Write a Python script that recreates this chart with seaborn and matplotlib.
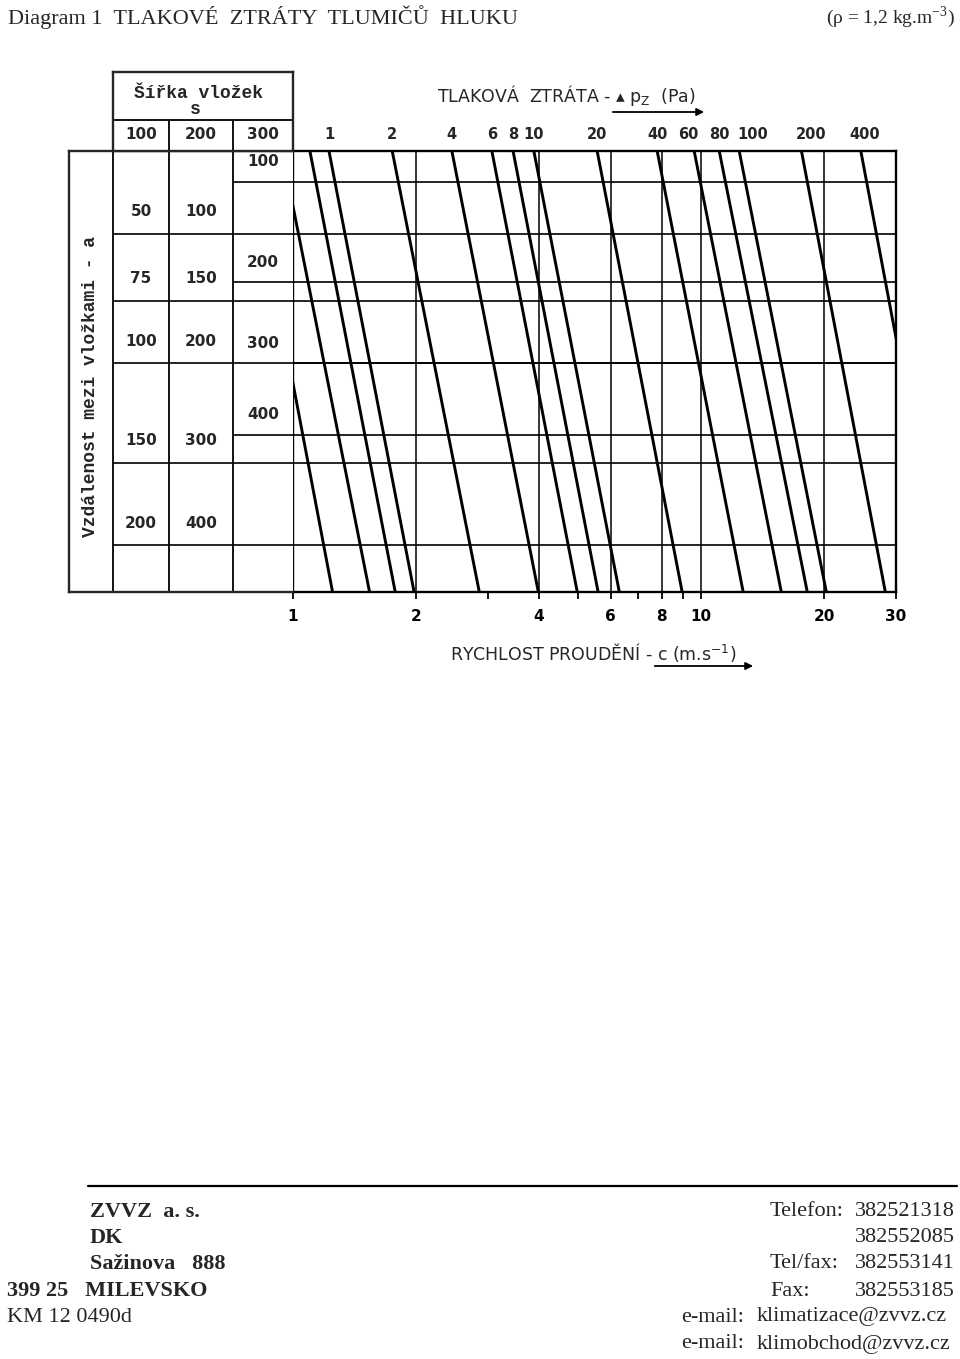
import numpy as np
import pandas as pd
import matplotlib
matplotlib.use("Agg")
import matplotlib.pyplot as plt
from matplotlib.lines import Line2D
from matplotlib.ticker import NullFormatter
import seaborn as sns

# ------------------------------------------------------------------ data
# pressure-loss lines  dp (Pa): velocity c (m/s) read where each line meets
# the top and the bottom edge of the chart field
dp_values = [0.4, 0.6, 0.8, 1, 2, 4, 6, 8, 10, 20, 40, 60, 80, 100, 200, 400]
dp_labels = ["", "", "", "1", "2", "4", "6", "8", "10", "20", "40", "60",
             "80", "100", "200", "400"]
c_at_top = [0.78, 0.94, 1.10, 1.225, 1.75, 2.45, 3.07, 3.46, 3.89, 5.56,
            7.80, 9.61, 11.07, 12.39, 17.6, 24.6]
c_at_bottom = [1.25, 1.54, 1.78, 1.98, 2.86, 3.99, 4.97, 5.59, 6.30, 8.98,
               12.67, 15.71, 18.19, 20.25, 28.25, 39.3]

# vertical scale: loss coefficient zeta at the top and bottom edge
zeta_top = 1.10
zeta_bottom = 0.41

# baffle width s and baffle spacing a (table left of the chart)
s_widths = ["100", "200", "300"]
a_s100 = [50, 75, 100, 150, 200]
a_s200 = [100, 150, 200, 300, 400]
zeta_rows = [0.914, 0.786, 0.684, 0.547, 0.455]     # rows shared by s=100/200
a_s300 = [100, 200, 300, 400]
zeta_s300 = [1.026, 0.820, 0.684, 0.583]

# velocity axis
c_ticks = [1, 2, 4, 6, 8, 10, 20, 30]
c_tick_labels = ["1", "2", "4", "6", "8", "10", "20", "30"]
c_minor = [3, 5, 7, 9]
c_grid = [2, 4, 6, 8, 10, 20]

# ------------------------------------------------------------------ style
sns.set_style("ticks")
plt.rcParams["font.family"] = ["DejaVu Sans"]
plt.rcParams["axes.linewidth"] = 1.6

W, H = 960, 1359
fig = plt.figure(figsize=(W / 100, H / 100), dpi=100)


def rect(x0, y0, x1, y1):
    return [x0 / W, 1 - y1 / H, (x1 - x0) / W, (y1 - y0) / H]


ax = fig.add_axes(rect(293, 151, 896, 592))
ax_t = fig.add_axes(rect(69, 151, 293, 592), sharey=ax)
ax_h = fig.add_axes(rect(113, 72, 293, 151))

ax.set_xscale("log")
ax.set_yscale("log")

# diagonal pressure-loss lines
rows = []
for dp, ct, cb in zip(dp_values, c_at_top, c_at_bottom):
    rows.append({"dp": dp, "c": ct, "zeta": zeta_top})
    rows.append({"dp": dp, "c": cb, "zeta": zeta_bottom})
df = pd.DataFrame(rows)
sns.lineplot(data=df, x="c", y="zeta", units="dp", estimator=None,
             sort=False, color="black", lw=2.1, ax=ax, legend=False)

ax.set_xlim(1, 30)
ax.set_ylim(zeta_bottom, zeta_top)
ax.set_xlabel("")
ax.set_ylabel("")

# grid
for c in c_grid:
    ax.axvline(c, color="black", lw=1.1, zorder=1)
for z in zeta_rows:
    ax.axhline(z, color="black", lw=1.2, zorder=1)
for z in zeta_s300:
    ax.axhline(z, color="black", lw=1.2, zorder=1)

# x axis
ax.set_xticks(c_ticks, labels=c_tick_labels, fontsize=11, fontweight="bold")
ax.set_xticks(c_minor, minor=True)
ax.xaxis.set_minor_formatter(NullFormatter())
ax.tick_params(axis="x", which="both", direction="out", length=5, width=1.3,
               pad=7, colors="black")
ax.tick_params(axis="y", which="both", left=False, labelleft=False)
ax.set_xlabel("RYCHLOST PROUDĚNÍ - c (m.s$^{\\mathregular{-1}}$)",
              fontsize=12.5)
ax.xaxis.set_label_coords(0.497, -0.112)

for sp in ax.spines.values():
    sp.set_visible(True)
    sp.set_linewidth(1.7)
    sp.set_color("black")

# labels of the pressure-loss lines (small nudges where labels crowd)
label_nudge = {"60": -4, "100": 10, "200": 7, "400": 3}
for lab, ct in zip(dp_labels, c_at_top):
    if lab:
        ax.annotate(lab, xy=(ct, zeta_top),
                    xytext=(label_nudge.get(lab, 0), 12),
                    textcoords="offset points", ha="center", va="center",
                    fontsize=10.5, fontweight="bold", annotation_clip=False)

# ------------------------------------------------------------------ table
ax_t.set_xlim(0, 224)
col_edges = [44, 100, 164]
col_mid = [72, 132, 194]
ax_t.vlines(col_edges, zeta_bottom, zeta_top, color="black", lw=1.3)
ax_t.hlines(zeta_rows, 44, 224, color="black", lw=1.2)
ax_t.hlines([z for z in zeta_s300 if z not in zeta_rows], 164, 224,
            color="black", lw=1.2)
ax_t.tick_params(axis="both", which="both", left=False, bottom=False,
                 labelleft=False, labelbottom=False)
for sp in ["left", "top", "bottom"]:
    ax_t.spines[sp].set_linewidth(1.7)
ax_t.spines["right"].set_visible(False)

for a, z in zip(a_s100, zeta_rows):
    ax_t.annotate(str(a), xy=(col_mid[0], z), xytext=(0, 16),
                  textcoords="offset points", ha="center", va="center",
                  fontsize=11, fontweight="bold")
for a, z in zip(a_s200, zeta_rows):
    ax_t.annotate(str(a), xy=(col_mid[1], z), xytext=(0, 16),
                  textcoords="offset points", ha="center", va="center",
                  fontsize=11, fontweight="bold")
for a, z in zip(a_s300, zeta_s300):
    ax_t.annotate(str(a), xy=(col_mid[2], z), xytext=(0, 14.5),
                  textcoords="offset points", ha="center", va="center",
                  fontsize=11, fontweight="bold")

ax_t.text(0.095, 0.465, "Vzdálenost mezi vložkami - a", rotation=90,
          transform=ax_t.transAxes, ha="center", va="center",
          fontsize=13, fontweight="bold", family=["Liberation Mono"])

# header of the table
ax_h.set_xlim(44, 224)
ax_h.set_ylim(0, 1)
ax_h.hlines(0.392, 44, 224, color="black", lw=1.3)
ax_h.vlines([100, 164], 0, 0.392, color="black", lw=1.3)
ax_h.tick_params(axis="both", which="both", left=False, bottom=False,
                 labelleft=False, labelbottom=False)
for sp in ax_h.spines.values():
    sp.set_linewidth(1.7)
ax_h.text(130, 0.73, "Šířka vložek", ha="center", va="center",
          fontsize=13, fontweight="bold", family=["Liberation Mono"])
ax_h.text(126, 0.52, "s", ha="center", va="center",
          fontsize=13, fontweight="bold", family=["Liberation Mono"])
for s, xm in zip(s_widths, col_mid):
    ax_h.text(xm, 0.215, s, ha="center", va="center",
              fontsize=11, fontweight="bold")

# ------------------------------------------------------------------ captions
fig.text(437 / W, 1 - 95 / H,
         "TLAKOVÁ  ZTRÁTA - ▴ p$_{\\mathregular{Z}}$  (Pa)",
         ha="left", va="center", fontsize=12.5)
fig.add_artist(matplotlib.patches.FancyArrowPatch(
    (610, H - 112), (707, H - 112), transform=None, arrowstyle="-|>",
    mutation_scale=11, lw=1.3, color="black"))
fig.add_artist(matplotlib.patches.FancyArrowPatch(
    (652, H - 666), (756, H - 666), transform=None, arrowstyle="-|>",
    mutation_scale=11, lw=1.3, color="black"))

serif = ["Liberation Serif", "DejaVu Serif"]
fig.text(8 / W, 1 - 17 / H,
         "Diagram 1  TLAKOVÉ  ZTRÁTY  TLUMIČŮ  HLUKU",
         ha="left", va="center", fontsize=16, family=serif)
fig.text(955 / W, 1 - 17 / H,
         "(ρ = 1,2 kg.m$^{\\mathregular{-3}}$)",
         ha="right", va="center", fontsize=14, family=serif)

# footer
fig.add_artist(Line2D([88 / W, 957 / W], [1 - 1186 / H, 1 - 1186 / H],
                      color="black", lw=1.6))
left_lines = [("ZVVZ  a. s.", 90, 1212, "bold"),
              ("DK", 90, 1238, "bold"),
              ("Sažinova   888", 90, 1264, "bold"),
              ("399 25   MILEVSKO", 7, 1291, "bold"),
              ("KM 12 0490d", 7, 1317, "normal")]
for txt, x, y, w in left_lines:
    fig.text(x / W, 1 - y / H, txt, ha="left", va="center", fontsize=16,
             fontweight=w, family=serif)

phone_rows = [("Telefon:", "382521318", 1212),
              ("", "382552085", 1238),
              ("Tel/fax:", "382553141", 1264),
              ("Fax:", "382553185", 1291)]
for lab, num, y in phone_rows:
    if lab:
        fig.text(770 / W, 1 - y / H, lab, ha="left", va="center",
                 fontsize=16, family=serif)
    fig.text(955 / W, 1 - y / H, num, ha="right", va="center",
             fontsize=16, family=serif)
mail_rows = [("e-mail:", "klimatizace@zvvz.cz", 1317),
             ("e-mail:", "klimobchod@zvvz.cz", 1344)]
for lab, mail, y in mail_rows:
    fig.text(681 / W, 1 - y / H, lab, ha="left", va="center",
             fontsize=16, family=serif)
    fig.text(757 / W, 1 - y / H, mail, ha="left", va="center",
             fontsize=16, family=serif)

fig.savefig("out.png", dpi=100, facecolor="white")
